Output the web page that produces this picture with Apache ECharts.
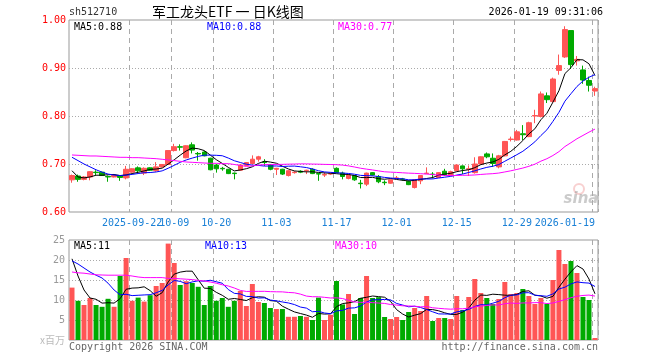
<!DOCTYPE html>
<html><head><meta charset="utf-8">
<script src="https://cdn.jsdelivr.net/npm/echarts@6/dist/echarts.min.js"></script>
<style>html,body{margin:0;padding:0;background:#fff}#c{width:660px;height:360px}</style>
</head><body><div id="c"></div>
<script>
// ---- data ----
const dates = [
 '2025-09-08','2025-09-09','2025-09-10','2025-09-11','2025-09-12','2025-09-15','2025-09-16','2025-09-17','2025-09-18','2025-09-19',
 '2025-09-22','2025-09-23','2025-09-24','2025-09-25','2025-09-26','2025-09-29','2025-09-30',
 '2025-10-09','2025-10-10','2025-10-13','2025-10-14','2025-10-15','2025-10-16','2025-10-17','2025-10-20','2025-10-21','2025-10-22','2025-10-23','2025-10-24','2025-10-27','2025-10-28','2025-10-29','2025-10-30','2025-10-31',
 '2025-11-03','2025-11-04','2025-11-05','2025-11-06','2025-11-07','2025-11-10','2025-11-11','2025-11-12','2025-11-13','2025-11-14','2025-11-17','2025-11-18','2025-11-19','2025-11-20','2025-11-21','2025-11-24','2025-11-25','2025-11-26','2025-11-27','2025-11-28',
 '2025-12-01','2025-12-02','2025-12-03','2025-12-04','2025-12-05','2025-12-08','2025-12-09','2025-12-10','2025-12-11','2025-12-12','2025-12-15','2025-12-16','2025-12-17','2025-12-18','2025-12-19','2025-12-22','2025-12-23','2025-12-24','2025-12-25','2025-12-26','2025-12-29','2025-12-30','2025-12-31',
 '2026-01-05','2026-01-06','2026-01-07','2026-01-08','2026-01-09','2026-01-12','2026-01-13','2026-01-14','2026-01-15','2026-01-16','2026-01-19'
];
const tickDates = ['2025-09-22','2025-10-09','2025-10-20','2025-11-03','2025-11-17','2025-12-01','2025-12-15','2025-12-29','2026-01-19'];
const tickLabels = ['2025-09-22','10-09','10-20','11-03','11-17','12-01','12-15','12-29','2026-01-19'];

const opens = [0.667,0.675,0.668,0.673,0.683,0.683,0.674,0.673,0.676,0.671,
 0.683,0.692,0.681,0.692,0.686,0.694,0.699,0.728,0.736,0.713,
 0.740,0.722,0.725,0.712,0.698,0.691,0.689,0.681,0.687,0.697,
 0.701,0.710,0.704,0.699,0.689,0.689,0.676,0.682,0.685,0.686,
 0.689,0.680,0.677,0.679,0.691,0.681,0.670,0.676,0.660,0.658,
 0.682,0.674,0.662,0.660,0.670,0.669,0.664,0.651,0.665,0.680,
 0.679,0.672,0.685,0.677,0.686,0.696,0.689,0.682,0.700,0.721,
 0.712,0.694,0.717,0.751,0.750,0.763,0.757,0.800,0.799,0.842,
 0.830,0.895,0.923,0.978,0.915,0.896,0.874,0.852];
const closes = [0.676,0.668,0.673,0.684,0.682,0.676,0.673,0.676,0.672,0.689,
 0.690,0.686,0.691,0.687,0.694,0.699,0.728,0.736,0.735,0.738,
 0.729,0.721,0.717,0.688,0.690,0.690,0.680,0.680,0.698,0.703,
 0.710,0.715,0.703,0.689,0.691,0.679,0.686,0.683,0.683,0.687,
 0.680,0.679,0.678,0.680,0.682,0.674,0.677,0.667,0.659,0.681,
 0.677,0.663,0.661,0.667,0.671,0.668,0.657,0.667,0.676,0.681,
 0.678,0.682,0.678,0.684,0.698,0.690,0.690,0.700,0.715,0.715,
 0.701,0.717,0.747,0.752,0.767,0.761,0.786,0.801,0.846,0.834,
 0.877,0.905,0.980,0.907,0.918,0.875,0.864,0.857];
const lows = [0.661,0.663,0.666,0.666,0.677,0.675,0.663,0.672,0.665,0.668,
 0.682,0.681,0.677,0.686,0.684,0.693,0.698,0.726,0.728,0.712,
 0.722,0.707,0.716,0.687,0.682,0.686,0.679,0.668,0.686,0.696,
 0.699,0.705,0.696,0.687,0.677,0.677,0.674,0.680,0.681,0.679,
 0.679,0.665,0.673,0.677,0.681,0.668,0.668,0.665,0.649,0.654,
 0.676,0.660,0.656,0.659,0.669,0.665,0.656,0.649,0.658,0.679,
 0.670,0.671,0.675,0.676,0.685,0.679,0.675,0.680,0.699,0.712,
 0.694,0.691,0.716,0.747,0.749,0.750,0.756,0.785,0.797,0.827,
 0.828,0.886,0.921,0.898,0.905,0.867,0.851,0.842];
const highs = [0.678,0.678,0.675,0.685,0.687,0.684,0.676,0.677,0.677,0.696,
 0.691,0.695,0.693,0.693,0.704,0.700,0.729,0.742,0.741,0.739,
 0.745,0.725,0.727,0.713,0.700,0.694,0.690,0.682,0.699,0.704,
 0.718,0.717,0.710,0.700,0.692,0.690,0.687,0.685,0.687,0.688,
 0.691,0.681,0.683,0.682,0.693,0.684,0.679,0.677,0.667,0.682,
 0.683,0.677,0.666,0.668,0.675,0.671,0.666,0.668,0.677,0.693,
 0.683,0.683,0.690,0.686,0.699,0.697,0.697,0.714,0.716,0.724,
 0.722,0.719,0.748,0.757,0.771,0.781,0.788,0.813,0.851,0.849,
 0.880,0.928,0.987,0.978,0.925,0.905,0.882,0.861];
const volumes = [13.1,9.8,8.75,10.5,8.75,8.3,10.3,8.3,16,20.5,
 9.8,10.6,9.6,11.2,13.5,14.25,24.1,19.25,13.75,14.7,
 14.25,13.3,8.75,13.5,9.8,10.5,8.3,9.8,12.25,8.5,
 14,9.5,9.25,8,7.75,7.75,5.8,5.8,6,5.8,
 5,10.6,5,6.3,14.75,8.9,11.5,6.5,10.5,16,
 10.5,10.7,5.75,5.25,5.75,5,7,8,7.25,11,
 4.75,5.5,5.5,5.25,11,7.5,10.75,15.25,11.75,10.5,
 9,10.25,14.5,11.5,11.75,12.75,11,9,10.5,9,
 15,22.5,19,19.75,16.75,10.75,10,0.5];
// moving-average values at the start of the window (history not shown)
const ma5Head = [0.686,0.673,0.671,0.673];
const ma10Head = [0.714,0.707,0.700,0.694,0.688,0.683,0.679,0.677,0.676];
const ma30Head = [0.7188,0.7181,0.7174,0.7167,0.7167,0.716,0.7153,0.7146,0.7139,0.7139,
 0.7132,0.7132,0.7125,0.7118,0.7111,0.7098,0.7084,0.707,0.7056,0.7042,
 0.7035,0.7028,0.7021,0.7014,0.7014,0.7007,0.7007,0.699,0.697];
const vma5Head = [20.3,16,12.5,10.5];
const vma10Head = [19.8,19.0,18.0,17.0,16.2,15.5,14.2,12.5,11.3];
const vma30Head = [17.0,16.8,16.7,16.5,16.3,16.25,16.2,16.2,16.2,16.2,
 16.0,15.75,15.6,15.6,15.6,15.6,15.4,15.4,15.3,15.2,
 15.1,14.9,14.75,14.5,14.2,13.8,13.5,13.0,12.4];
const maLabels = ['MA5:0.88','MA10:0.88','MA30:0.77'];
const vmaLabels = ['MA5:11','MA10:13','MA30:10'];

// ---- helpers ----
function ma(arr, n, head){
  return arr.map((v,i)=>{
    if(i < n-1) return head[i];
    let s=0; for(let k=i-n+1;k<=i;k++) s+=arr[k];
    return s/n;
  });
}
const RED='#ff5555', GREEN='#00aa00';
const kData = dates.map((d,i)=>[opens[i],closes[i],lows[i],highs[i]]);
const vData = volumes.map((v,i)=>({value:v,itemStyle:{color: closes[i]>=opens[i]?RED:GREEN}}));
const isTick = (i)=> tickDates.indexOf(dates[i])>=0;
const firstTick = dates.indexOf(tickDates[0]);
const MONO = 'DejaVu Sans Mono';
const labelFmt = (v)=>{const k=tickDates.indexOf(v);return k>=0?tickLabels[k]:'';};
const labelBase = {color:'#1a80d6',fontFamily:MONO,fontSize:10,margin:6,hideOverlap:false,formatter:labelFmt};

const chart = echarts.init(document.getElementById('c'),null,{renderer:'canvas'});
const lineS = (name,data,color,xi,yi)=>({name,type:'line',data,xAxisIndex:xi,yAxisIndex:yi,showSymbol:false,symbol:'none',
  lineStyle:{color,width:1},itemStyle:{color},z:5,silent:true});

function txt(x,y,text,fill,font,align){
  return {type:'text',x,y,silent:true,style:{text,fill,font,align:align||'left',verticalAlign:'middle'}};
}

chart.setOption({
  animation:false,
  backgroundColor:'#fff',
  grid:[
    {left:69,right:62,top:20,height:192,show:true,borderColor:'#999',borderWidth:1},
    {left:69,right:62,top:240,height:100,show:true,borderColor:'#999',borderWidth:1}
  ],
  xAxis:[
    {type:'category',gridIndex:0,data:dates,boundaryGap:true,position:'bottom',
     axisLine:{show:false},axisTick:{show:false},
     axisLabel:Object.assign({},labelBase,{interval:(i)=>isTick(i)&&i!==firstTick,alignMaxLabel:'right'}),
     splitLine:{show:true,interval:(i)=>isTick(i),lineStyle:{color:'#aaa',type:[5,4],width:1}}},
    {type:'category',gridIndex:1,data:dates,boundaryGap:true,
     axisLine:{show:false},axisTick:{show:false},axisLabel:{show:false},
     splitLine:{show:true,interval:(i)=>isTick(i),lineStyle:{color:'#aaa',type:[5,4],width:1}}},
    {type:'category',gridIndex:0,data:dates,boundaryGap:true,position:'bottom',offset:0,
     axisLine:{show:false},axisTick:{show:false},splitLine:{show:false},
     axisLabel:Object.assign({},labelBase,{interval:(i)=>i===firstTick})}
  ],
  yAxis:[
    {type:'value',gridIndex:0,min:0.6,max:1.0,interval:0.1,scale:true,
     axisLine:{show:false},axisTick:{show:false},
     axisLabel:{color:'#ff0000',fontFamily:MONO,fontSize:10,margin:3,formatter:(v)=>v.toFixed(2)},
     splitLine:{show:true,showMinLine:false,showMaxLine:false,lineStyle:{color:'#aaa',type:[1,2],width:1}}},
    {type:'value',gridIndex:1,min:0,max:25,interval:5,
     axisLine:{show:false},axisTick:{show:false},
     axisLabel:{color:'#999',fontFamily:MONO,fontSize:10,margin:4,
       formatter:(v)=> v===0 ? '{u|x百万}' : String(v),
       rich:{u:{color:'#bbb',fontFamily:'Noto Sans CJK SC',fontSize:10}}},
     splitLine:{show:true,showMinLine:false,showMaxLine:false,lineStyle:{color:'#aaa',type:[1,2],width:1}}}
  ],
  series:[
    {type:'candlestick',data:kData,xAxisIndex:0,yAxisIndex:0,barWidth:5,z:3,
     itemStyle:{color:RED,color0:GREEN,borderColor:RED,borderColor0:GREEN,borderWidth:1}},
    lineS('MA5',ma(closes,5,ma5Head),'#000000',0,0),
    lineS('MA10',ma(closes,10,ma10Head),'#0000ff',0,0),
    lineS('MA30',ma(closes,30,ma30Head),'#ff00ff',0,0),
    {type:'bar',data:vData,xAxisIndex:1,yAxisIndex:1,barWidth:5,z:3},
    lineS('VMA5',ma(volumes,5,vma5Head),'#000000',1,1),
    lineS('VMA10',ma(volumes,10,vma10Head),'#0000ff',1,1),
    lineS('VMA30',ma(volumes,30,vma30Head),'#ff00ff',1,1)
  ],
  graphic:[
    txt(69,12,'sh512710','#333','10px '+MONO),
    txt(152,12,'军工龙头ETF 一 日K线图','#000','14px "Noto Sans CJK SC"'),
    txt(603,12,'2026-01-19 09:31:06','#000','10px '+MONO,'right'),
    txt(74,27,maLabels[0],'#000','10px '+MONO),
    txt(207,27,maLabels[1],'#0000ff','10px '+MONO),
    txt(338,27,maLabels[2],'#ff00ff','10px '+MONO),
    txt(74,246,vmaLabels[0],'#000','10px '+MONO),
    txt(205,246,vmaLabels[1],'#0000ff','10px '+MONO),
    txt(335,246,vmaLabels[2],'#ff00ff','10px '+MONO),
    txt(69,347,'Copyright 2026 SINA.COM','#666','10px '+MONO),
    txt(598,347,'http://finance.sina.com.cn','#666','10px '+MONO,'right'),
    {type:'circle',silent:true,shape:{cx:579,cy:189,r:5},style:{fill:'none',stroke:'rgba(235,120,120,0.35)',lineWidth:2}},
    txt(581,199,'sina','rgba(140,140,140,0.45)','italic bold 15px "DejaVu Sans"','center')
  ]
});
</script></body></html>
